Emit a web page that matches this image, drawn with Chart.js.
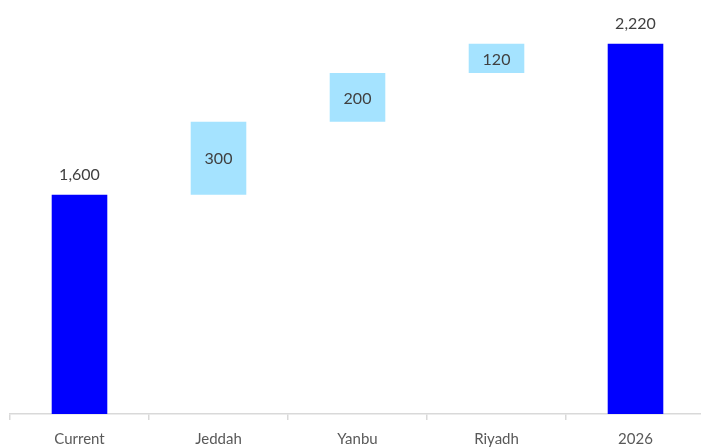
<!DOCTYPE html>
<html>
<head>
<meta charset="utf-8">
<script src="https://cdn.jsdelivr.net/npm/chart.js@4"></script>
<style>
  html, body { margin: 0; padding: 0; background: #fff; overflow: hidden; }
  #wrap { position: absolute; left: 0; top: 0; width: 710px; height: 464px; }
</style>
</head>
<body>
<div id="wrap"><canvas id="chart"></canvas></div>
<script>
// Waterfall data
const categories = ['Current', 'Jeddah', 'Yanbu', 'Riyadh', '2026'];
const values = [1600, 300, 200, 120, 2220];
const isTotal = [true, false, false, false, true];

// Build floating ranges from the running total
let running = 0;
const ranges = values.map((v, i) => {
    if (isTotal[i]) { running = v; return [0, v]; }
    const start = running;
    running += v;
    return [start, running];
});

const fmt = n => new Intl.NumberFormat('en-US').format(n);

// Draw value labels: above totals, centred inside steps
const labelPlugin = {
    id: 'valueLabels',
    afterDatasetsDraw(chart) {
        const ctx = chart.ctx;
        const meta = chart.getDatasetMeta(0);
        ctx.save();
        ctx.font = '16px Lato';
        ctx.fillStyle = '#404040';
        ctx.textAlign = 'center';
        ctx.textBaseline = 'middle';
        meta.data.forEach((bar, i) => {
            const y = isTotal[i] ? bar.y - 20 : (bar.y + bar.base) / 2 + 1;
            ctx.fillText(fmt(values[i]), bar.x, y);
        });
        ctx.restore();
    }
};

new Chart(document.getElementById('chart'), {
    type: 'bar',
    data: {
        labels: categories,
        datasets: [{
            data: ranges,
            backgroundColor: isTotal.map(t => t ? '#0000FF' : '#A5E3FF'),
            borderWidth: 0,
            borderSkipped: false,
            categoryPercentage: 1,
            barPercentage: 0.4
        }]
    },
    options: {
        responsive: true,
        maintainAspectRatio: false,
        animation: false,
        layout: { padding: { left: 10, right: 5, top: 0, bottom: 0 } },
        plugins: { legend: { display: false }, tooltip: { enabled: false } },
        scales: {
            x: {
                offset: true,
                grid: {
                    offset: true,
                    drawOnChartArea: false,
                    drawTicks: true,
                    tickLength: 6,
                    color: '#D9D9D9',
                    lineWidth: 1.5
                },
                border: { display: true, color: '#D9D9D9', width: 1.5 },
                ticks: {
                    color: '#595959',
                    font: { family: 'Lato', size: 15 },
                    padding: 10,
                    maxRotation: 0
                },
                afterFit: scale => { scale.height = 50; }
            },
            y: {
                display: false,
                min: 700,
                max: 2400
            }
        }
    },
    plugins: [labelPlugin]
});
</script>
</body>
</html>
